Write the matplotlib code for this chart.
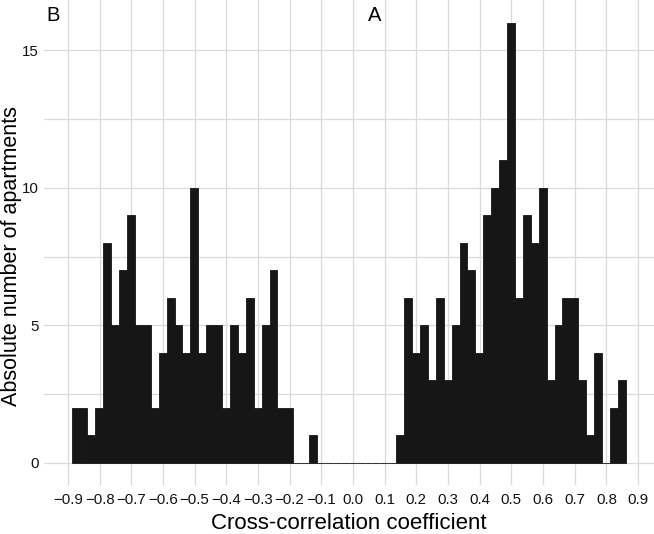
import numpy as np
import matplotlib
matplotlib.use('Agg')
import matplotlib.pyplot as plt

plt.rcParams['font.family'] = ['Liberation Sans', 'DejaVu Sans']

# histogram counts (bin width 0.025)
bin_start = -0.8885
bin_width = 0.025
counts = [2, 2, 1, 2, 8, 5, 7, 9, 5, 5,
          2, 4, 6, 5, 4, 10, 4, 5, 5, 2,
          5, 4, 6, 2, 5, 7, 2, 2, 0, 0,
          1, 0, 0, 0, 0, 0, 0, 0, 0, 0,
          0, 1, 6, 4, 5, 3, 6, 3, 5, 8,
          7, 4, 9, 10, 11, 16, 6, 9, 8, 10,
          3, 5, 6, 6, 3, 1, 4, 0, 2, 3]
x_ticks = [-0.9, -0.8, -0.7, -0.6, -0.5, -0.4, -0.3, -0.2, -0.1, 0.0,
           0.1, 0.2, 0.3, 0.4, 0.5, 0.6, 0.7, 0.8, 0.9]
y_ticks = [0, 5, 10, 15]
panel_labels = ['B', 'A']
panel_label_x = [-0.947, 0.067]

left_edges = bin_start + bin_width * np.arange(len(counts))

fig = plt.figure(figsize=(6.54, 5.34), dpi=100)
ax = fig.add_axes([44 / 654, 1 - 485 / 534, 1 - 44 / 654, 485 / 534])

ax.bar(left_edges, counts, width=bin_width, align='edge',
       color='#161616', edgecolor='#161616', linewidth=0.6, zorder=3)

ax.set_xlim(-0.9756, 0.9505)
ax.set_ylim(-0.8, 16.82)
ax.set_xticks(x_ticks)
ax.set_xticklabels([('%.1f' % v).replace('-', '\u2212') for v in x_ticks])
ax.set_yticks(y_ticks)
ax.set_yticks([2.5, 7.5, 12.5], minor=True)

ax.grid(True, which='both', color='#dadada', linewidth=0.9, zorder=0)
ax.set_axisbelow(True)
for s in ax.spines.values():
    s.set_visible(False)
ax.tick_params(which='both', length=0)
ax.tick_params(axis='x', labelsize=10.8, pad=6, colors='#111111')
ax.tick_params(axis='y', labelsize=10.8, pad=4, colors='#111111')

ax.set_xlabel('Cross-correlation coefficient', fontsize=16, labelpad=4)
fig.text(0.5 / 654, 1 - 256 / 534, 'Absolute number of apartments',
         fontsize=15.5, rotation=90, ha='left', va='center')

for lab, xv in zip(panel_labels, panel_label_x):
    ax.text(xv, 16.25, lab, fontsize=14.5, ha='center', va='center', zorder=4)

fig.savefig('out.png', dpi=100)
